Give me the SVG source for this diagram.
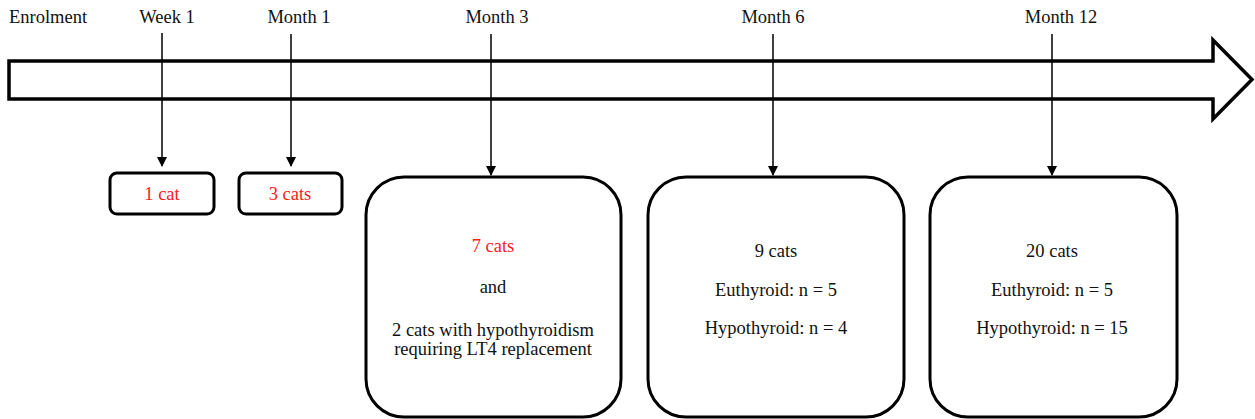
<svg xmlns="http://www.w3.org/2000/svg" width="1255" height="419" viewBox="0 0 1255 419">
<style>
text{font-family:"Liberation Serif","Times New Roman",serif;font-size:18.5px;fill:#111}
.c{text-anchor:middle}
.r{fill:#ff1a1a}
.box{fill:#fff;stroke:#000;stroke-width:3}
.ln{stroke:#000;stroke-width:1.5;fill:none}
</style>
<defs>
<marker id="ah" markerWidth="10" markerHeight="10" refX="9" refY="5" orient="auto" markerUnits="userSpaceOnUse">
<path d="M0,0 L10,5 L0,10 z" fill="#000"/>
</marker>
</defs>
<rect width="1255" height="419" fill="#fff"/>
<g id="timeline">
<path d="M9,61 L1213,61 L1213,40 L1252,79.5 L1213,119 L1213,99 L9,99 Z" fill="#fff" stroke="#000" stroke-width="3.5" stroke-linejoin="miter"/>
</g>
<g id="labels">
<text x="9" y="23">Enrolment</text>
<text class="c" x="167" y="23">Week 1</text>
<text class="c" x="299" y="23">Month 1</text>
<text class="c" x="497" y="23">Month 3</text>
<text class="c" x="773" y="23">Month 6</text>
<text class="c" x="1061" y="23">Month 12</text>
</g>
<g id="connectors">
<line class="ln" x1="162" y1="33" x2="162" y2="166" marker-end="url(#ah)"/>
<line class="ln" x1="291" y1="34" x2="291" y2="166" marker-end="url(#ah)"/>
<line class="ln" x1="491" y1="34" x2="491" y2="175" marker-end="url(#ah)"/>
<line class="ln" x1="773" y1="34" x2="773" y2="175" marker-end="url(#ah)"/>
<line class="ln" x1="1052" y1="34" x2="1052" y2="175" marker-end="url(#ah)"/>
</g>
<g id="week1">
<rect class="box" x="110" y="173" width="104" height="41" rx="7"/>
<text class="c r" x="162" y="200">1 cat</text>
</g>
<g id="month1">
<rect class="box" x="239" y="173" width="103" height="41" rx="7"/>
<text class="c r" x="290" y="200">3 cats</text>
</g>
<g id="month3">
<rect class="box" x="366" y="177" width="255" height="240" rx="38"/>
<text class="c r" x="493" y="252">7 cats</text>
<text class="c" x="493" y="293">and</text>
<text class="c" x="493" y="336">2 cats with hypothyroidism</text>
<text class="c" x="493" y="355">requiring LT4 replacement</text>
</g>
<g id="month6">
<rect class="box" x="648" y="177" width="256" height="240" rx="38"/>
<text class="c" x="776" y="257">9 cats</text>
<text class="c" x="776" y="296">Euthyroid: n = 5</text>
<text class="c" x="776" y="334">Hypothyroid: n = 4</text>
</g>
<g id="month12">
<rect class="box" x="930" y="177" width="247" height="240" rx="38"/>
<text class="c" x="1052" y="257">20 cats</text>
<text class="c" x="1052" y="296">Euthyroid: n = 5</text>
<text class="c" x="1052" y="334">Hypothyroid: n = 15</text>
</g>
</svg>
